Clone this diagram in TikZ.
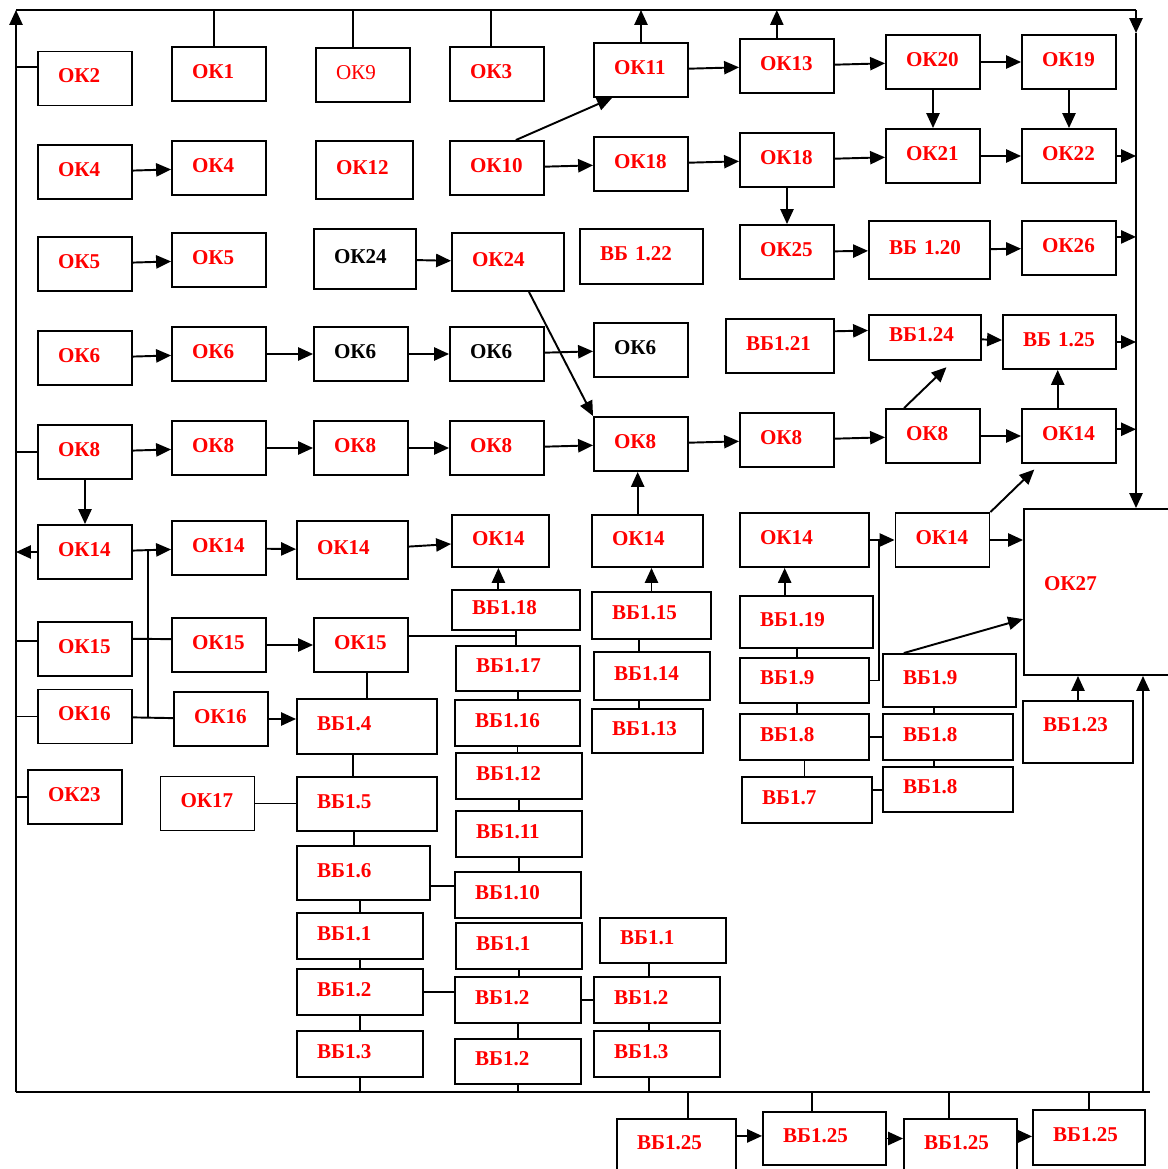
\documentclass[tikz,border=0pt]{standalone}
\usepackage{fontspec}
\setmainfont{Liberation Serif}
\usetikzlibrary{arrows.meta}

\begin{document}
\begin{tikzpicture}[x=0.02cm, y=-0.02cm, line width=1.1pt,
    box/.style={draw, inner xsep=0.4cm, inner ysep=0pt, align=left,
      text height=7.9pt, text depth=3.2pt, text=red,
      font=\fontsize{12}{14}\selectfont\bfseries},
    ok/.style={box, text width=1.08cm, minimum height=1.08cm},
    vb/.style={box, text width=1.72cm, minimum height=0.92cm},
    blk/.style={text=black},
    arr/.style={-{Triangle[length=8.5pt,width=7.5pt]}}]
  \useasboundingbox (0,0) rectangle (1168,1169);
  \coordinate (tl) at (16,10);
  \coordinate (tr) at (1136,10);
  \coordinate (trd) at (1136,33);
  \coordinate (bl) at (16,1092);
  \coordinate (br) at (1150,1092);
  \coordinate (rise) at (1143,1092);
  \coordinate (split) at (148,550);
  \coordinate (join) at (879,540);

  \node[ok] (ok2) at (85,78.5) {ОК2};
  \node[ok] (ok1) at (219,74) {ОК1};
  \node[ok, font=\fontsize{12}{14}\selectfont] (ok9) at (363,75) {ОК9};
  \node[ok] (ok3) at (497,74) {ОК3};
  \node[ok] (ok11) at (641,70) {ОК11};
  \node[ok] (ok13) at (787,66) {ОК13};
  \node[ok] (ok20) at (933,62) {ОК20};
  \node[ok] (ok19) at (1069,62) {ОК19};

  \node[ok] (ok4a) at (85,172) {ОК4};
  \node[ok] (ok4b) at (219,168) {ОК4};
  \node[ok, text width=1.14cm, minimum height=1.16cm] (ok12) at (364.5,170) {ОК12};
  \node[ok] (ok10) at (497,168) {ОК10};
  \node[ok] (ok18a) at (641,164) {ОК18};
  \node[ok] (ok18b) at (787,160) {ОК18};
  \node[ok] (ok21) at (933,156) {ОК21};
  \node[ok] (ok22) at (1069,156) {ОК22};

  \node[ok] (ok5a) at (85,264) {ОК5};
  \node[ok] (ok5b) at (219,260) {ОК5};
  \node[ok, blk, text width=1.24cm, minimum height=1.2cm] (ok24a) at (365,259) {ОК24};
  \node[ok, text width=1.44cm, minimum height=1.16cm] (ok24b) at (508,262) {ОК24};
  \node[ok, text width=1.66cm, minimum height=1.1cm] (vb122) at (641.5,256.5) {ВБ 1.22};
  \node[ok] (ok25) at (787,252) {ОК25};
  \node[ok, text width=1.62cm, minimum height=1.16cm] (vb120) at (929.5,250) {ВБ 1.20};
  \node[ok] (ok26) at (1069,248) {ОК26};

  \node[ok] (ok6a) at (85,358) {ОК6};
  \node[ok] (ok6b) at (219,354) {ОК6};
  \node[ok, blk] (ok6c) at (361,354) {ОК6};
  \node[ok, blk] (ok6d) at (497,354) {ОК6};
  \node[ok, blk] (ok6e) at (641,350) {ОК6};
  \node[ok, text width=1.36cm] (vb121) at (780,346) {ВБ1.21};
  \node[ok, text width=1.44cm, minimum height=0.9cm] (vb124) at (925,337.5) {ВБ1.24};
  \node[ok, text width=1.46cm] (vb125) at (1059.5,342) {ВБ 1.25};

  \node[ok] (ok8a) at (85,452) {ОК8};
  \node[ok] (ok8b) at (219,448) {ОК8};
  \node[ok] (ok8c) at (361,448) {ОК8};
  \node[ok] (ok8d) at (497,448) {ОК8};
  \node[ok] (ok8e) at (641,444) {ОК8};
  \node[ok] (ok8f) at (787,440) {ОК8};
  \node[ok] (ok8g) at (933,436) {ОК8};
  \node[ok] (ok14h) at (1069,436) {ОК14};

  \node[ok] (ok14a) at (85,552) {ОК14};
  \node[ok] (ok14b) at (219,548) {ОК14};
  \node[ok, text width=1.42cm, minimum height=1.16cm] (ok14c) at (352.5,550) {ОК14};
  \node[ok, text width=1.14cm, minimum height=1.04cm] (ok14d) at (500.5,541) {ОК14};
  \node[ok, text width=1.42cm, minimum height=1.04cm] (ok14e) at (647.5,541) {ОК14};
  \node[ok, text width=1.78cm] (ok14f) at (804.5,540) {ОК14};
  \node[ok] (ok14g) at (942.5,540) {ОК14};
  \node[ok, text width=2.14cm, minimum height=3.32cm, text depth=10pt] (ok27) at (1097.5,592) {ОК27};

  \node[ok] (ok15a) at (85,649) {ОК15};
  \node[ok] (ok15b) at (219,645) {ОК15};
  \node[ok] (ok15c) at (361,645) {ОК15};
  \node[ok] (ok16a) at (85,716.5) {ОК16};
  \node[ok] (ok16b) at (221,719) {ОК16};
  \node[ok] (ok23) at (75,797) {ОК23};
  \node[ok] (ok17) at (207.5,803.5) {ОК17};
  \node[vb, text width=2.0cm, minimum height=1.1cm] (vb14) at (367,726.5) {ВБ1.4};
  \node[vb, text width=2.0cm, minimum height=1.08cm] (vb15) at (367,804) {ВБ1.5};
  \node[vb, text width=1.86cm, minimum height=1.08cm] (vb16) at (363.5,873) {ВБ1.6};
  \node[vb] (vb11a) at (360,936) {ВБ1.1};
  \node[vb] (vb12a) at (360,992) {ВБ1.2};
  \node[vb] (vb13a) at (360,1054) {ВБ1.3};

  \node[vb, text width=1.76cm, minimum height=0.8cm] (vb118) at (516,610) {ВБ1.18};
  \node[vb, text width=1.68cm, minimum height=0.9cm] (vb117) at (518,668.5) {ВБ1.17};
  \node[vb, text width=1.70cm] (vb116) at (517.5,723) {ВБ1.16};
  \node[vb] (vb112) at (519,776) {ВБ1.12};
  \node[vb] (vb111) at (519,834) {ВБ1.11};
  \node[vb] (vb110) at (518,895) {ВБ1.10};
  \node[vb] (vb11b) at (519,946) {ВБ1.1};
  \node[vb] (vb12b) at (518,1000) {ВБ1.2};
  \node[vb, minimum height=0.9cm] (vb12d) at (518,1061.5) {ВБ1.2};

  \node[vb, text width=1.58cm, minimum height=0.94cm] (vb115) at (651.5,615.5) {ВБ1.15};
  \node[vb, text width=1.52cm, minimum height=0.96cm] (vb114) at (652,676) {ВБ1.14};
  \node[vb, text width=1.42cm, minimum height=0.88cm] (vb113) at (647.5,731) {ВБ1.13};
  \node[vb, minimum height=0.9cm] (vb11c) at (663,940.5) {ВБ1.1};
  \node[vb] (vb12c) at (657,1000) {ВБ1.2};
  \node[vb] (vb13c) at (657,1054) {ВБ1.3};

  \node[vb, text width=1.86cm, minimum height=1.04cm] (vb119) at (806.5,622) {ВБ1.19};
  \node[vb, text width=1.78cm, minimum height=0.9cm] (vb19a) at (804.5,680.5) {ВБ1.9};
  \node[vb, text width=1.78cm] (vb18a) at (804.5,737) {ВБ1.8};
  \node[vb, text width=1.8cm] (vb17) at (807,800) {ВБ1.7};
  \node[vb, text width=1.86cm, minimum height=1.06cm] (vb19b) at (949.5,680.5) {ВБ1.9};
  \node[vb, text width=1.8cm] (vb18b) at (948,737) {ВБ1.8};
  \node[vb, text width=1.8cm, minimum height=0.9cm] (vb18c) at (948,789.5) {ВБ1.8};
  \node[vb, text width=1.4cm, minimum height=1.24cm, text depth=8pt] (vb123) at (1078,732) {ВБ1.23};

  \node[vb, text width=1.58cm, minimum height=1.06cm] (vb125a) at (676.5,1145.5) {ВБ1.25};
  \node[vb, text width=1.66cm, minimum height=1.06cm] (vb125b) at (824.5,1138.5) {ВБ1.25};
  \node[vb, text width=1.46cm, minimum height=1.06cm] (vb125c) at (960.5,1145.5) {ВБ1.25};
  \node[vb, text width=1.44cm, minimum height=1.1cm] (vb125d) at (1089,1137.5) {ВБ1.25};

  \draw[arr] (bl) -- (tl);
  \draw (tl) -- (tr);
  \draw[arr] (tr) -- (trd);
  \draw[arr] (trd) -- (trd |- ok27.north);
  \draw (bl) -- (br);
  \draw[arr] (rise) -- (rise |- ok27.south);

  \draw (ok1.100) -- (ok1.100 |- tl);
  \draw (ok9.110) -- (ok9.110 |- tl);
  \draw (ok3.102) -- (ok3.102 |- tl);
  \draw[arr] (ok11.north) -- (ok11.north |- tl);
  \draw[arr] (ok13.110) -- (ok13.110 |- tl);

  \draw (ok2.167) -- (ok2.167 -| tl);
  \draw (ok8a.west) -- (ok8a.west -| tl);
  \draw[arr] (ok14a.west) -- (ok14a.west -| tl);
  \draw (ok15a.171) -- (ok15a.171 -| tl);
  \draw (ok16a.west) -- (ok16a.west -| tl);
  \draw (ok23.west) -- (ok23.west -| tl);

  \draw[arr] (ok22.east) -- (ok22.east -| tr);
  \draw[arr] (ok26.13) -- (ok26.13 -| tr);
  \draw[arr] (vb125.east) -- (vb125.east -| tr);
  \draw[arr] (ok14h.8) -- (ok14h.8 -| tr);

  \draw[arr] (ok11) -- (ok13);
  \draw[arr] (ok13) -- (ok20);
  \draw[arr] (ok20) -- (ok19);
  \draw[arr] (ok20.south) -- (ok21.north);
  \draw[arr] (ok19.south) -- (ok22.north);

  \draw[arr] (ok4a) -- (ok4b);
  \draw[arr] (ok10.56) -- (ok11.224);
  \draw[arr] (ok10) -- (ok18a);
  \draw[arr] (ok18a) -- (ok18b);
  \draw[arr] (ok18b) -- (ok21);
  \draw[arr] (ok21) -- (ok22);
  \draw[arr] (ok18b.south) -- (ok25.north);

  \draw[arr] (ok5a) -- (ok5b);
  \draw[arr] (ok24a) -- (ok24b);
  \draw[arr] (ok24b.305) -- (ok8e.north west);
  \draw[arr] (ok25) -- (vb120);
  \draw[arr] (vb120) -- (ok26);

  \draw[arr] (ok6a) -- (ok6b);
  \draw[arr] (ok6b) -- (ok6c);
  \draw[arr] (ok6c) -- (ok6d);
  \draw[arr] (ok6d) -- (ok6e);
  \draw[arr] (vb121.15) -- (vb124.173);
  \draw[arr] (vb124) -- (vb125);

  \draw[arr] (ok8a) -- (ok8b);
  \draw[arr] (ok8b) -- (ok8c);
  \draw[arr] (ok8c) -- (ok8d);
  \draw[arr] (ok8d) -- (ok8e);
  \draw[arr] (ok8e) -- (ok8f);
  \draw[arr] (ok8f) -- (ok8g);
  \draw[arr] (ok8g) -- (ok14h);
  \draw[arr, shorten >=0.18cm] (ok8g.136) -- (vb124.320);
  \draw[arr] (ok14h.112) -- (ok14h.112 |- vb125.south);
  \draw[arr] (ok8a.south) -- (ok14a.north);

  \draw[arr] (ok14a) -- (ok14b);
  \draw (split) -- (split |- ok16a.east);
  \draw (ok15a.12) -- (ok15b.173);
  \draw (ok16a) -- (ok16b);
  \draw[arr] (ok14b) -- (ok14c);
  \draw[arr] (ok14c) -- (ok14d);
  \draw[arr] (vb118.130) -- (vb118.130 |- ok14d.south);
  \draw[arr] (vb115.north) -- (vb115.north |- ok14e.south);
  \draw[arr] (ok14e.110) -- (ok14e.110 |- ok8e.south);
  \draw[arr] (vb119.129) -- (vb119.129 |- ok14f.south);
  \draw[arr] (ok14f) -- (ok14g);
  \draw (vb19a.east) -- (vb19a.east -| join) -- (join);
  \draw[arr] (ok14g.east) -- (ok14g.east -| ok27.west);
  \draw[arr, shorten >=0.16cm] (ok14g.north east) -- (ok14h.224);
  \draw[arr] (vb19b.149) -- (ok27.200);
  \draw[arr] (vb123.north) -- (vb123.north |- ok27.south);

  \draw[arr] (ok15b) -- (ok15c);
  \draw (ok15c.11) -- (ok15c.11 -| vb118.south);
  \draw (vb118.south) -- (vb118.south |- vb117.north);
  \draw (vb14.north) -- (vb14.north |- ok15c.south);
  \draw[arr] (ok16b.east) -- (ok16b.east -| vb14.west);
  \draw (vb15.116) -- (vb15.116 |- vb14.south);
  \draw (ok17.east) -- (ok17.east -| vb15.west);
  \draw (vb16.108) -- (vb16.108 |- vb15.south);
  \draw (vb16.349) -- (vb16.349 -| vb110.west);
  \draw (vb11a.north) -- (vb11a.north |- vb16.south);
  \draw (vb11a.south) -- (vb11a.south |- vb12a.north);
  \draw (vb12a.south) -- (vb12a.south |- vb13a.north);
  \draw (vb13a.south) -- (vb13a.south |- bl);
  \draw (vb12a.east) -- (vb12a.east -| vb12b.west);

  \draw (vb117.south) -- (vb117.south |- vb116.north);
  \draw (vb116.south) -- (vb116.south |- vb112.north);
  \draw (vb112.south) -- (vb112.south |- vb111.north);
  \draw (vb111.south) -- (vb111.south |- vb110.north);
  \draw (vb11b.south) -- (vb11b.south |- vb12b.north);
  \draw (vb12b.east) -- (vb12b.east -| vb12c.west);
  \draw (vb12b.south) -- (vb12b.south |- vb12d.north);
  \draw (vb12d.south) -- (vb12d.south |- bl);

  \draw (vb114.118) -- (vb114.118 |- vb115.south);
  \draw (vb114.242) -- (vb114.242 |- vb113.north);
  \draw (vb12c.109) -- (vb12c.109 |- vb11c.south);
  \draw (vb12c.251) -- (vb12c.251 |- vb13c.north);
  \draw (vb13c.251) -- (vb13c.251 |- bl);

  \draw (vb19a.108) -- (vb19a.108 |- vb119.south);
  \draw (vb19a.252) -- (vb19a.252 |- vb18a.north);
  \draw (vb18a.south) -- (vb18a.south |- vb17.north);
  \draw (vb18a.east) -- (vb18a.east -| vb18b.west);
  \draw (vb17.9) -- (vb17.9 -| vb18c.west);
  \draw (vb18b.120) -- (vb18b.120 |- vb19b.south);
  \draw (vb18b.240) -- (vb18b.240 |- vb18c.north);

  \draw (vb125a.67) -- (vb125a.67 |- bl);
  \draw (vb125b.115) -- (vb125b.115 |- bl);
  \draw (vb125c.113) -- (vb125c.113 |- bl);
  \draw (vb125d.north) -- (vb125d.north |- bl);
  \draw[arr] (vb125a.9) -- (vb125a.9 -| vb125b.west);
  \draw[arr] (vb125b.east) -- (vb125b.east -| vb125c.west);
  \draw[arr] (vb125c.9) -- (vb125c.9 -| vb125d.west);
\end{tikzpicture}
\end{document}
